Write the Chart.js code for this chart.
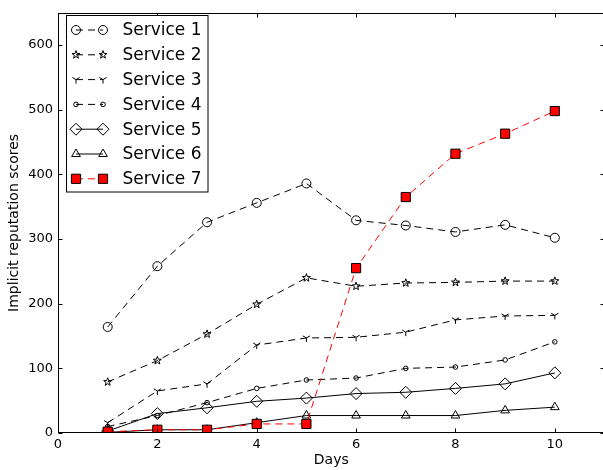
<!DOCTYPE html>
<html>
<head>
<meta charset="utf-8">
<title>Implicit reputation scores</title>
<script src="https://cdn.jsdelivr.net/npm/chart.js@4.4.1/dist/chart.umd.min.js"></script>
<style>
  html, body { margin: 0; padding: 0; background: #fff; overflow: hidden; }
  #chart { display: block; }
</style>
</head>
<body>
<canvas id="chart" width="612" height="470"></canvas>
<script>
// values
const days = [1, 2, 3, 4, 5, 6, 7, 8, 9, 10];
const service1 = [164, 258, 326, 356, 386, 329, 321, 311, 322, 302];
const service2 = [79, 112, 153, 199, 240, 227, 232, 233, 235, 235];
const service3 = [16, 65, 76, 136, 147, 148, 156, 175, 181, 182];
const service4 = [10, 27, 47, 69, 82, 85, 100, 102, 113, 141];
const service5 = [3, 30, 39, 49, 54, 61, 63, 69, 76, 93];
const service6 = [1, 5, 5, 16, 27, 27, 27, 27, 35, 40];
const service7 = [2, 5, 5, 14, 14, 255, 365, 432, 463, 498];
const seriesNames = ['Service 1', 'Service 2', 'Service 3', 'Service 4', 'Service 5', 'Service 6', 'Service 7'];
const xTicks = [0, 2, 4, 6, 8, 10];
const yTicks = [0, 100, 200, 300, 400, 500, 600];

Chart.defaults.font.family = '"DejaVu Sans", sans-serif';
Chart.defaults.color = '#000';

// markers chart.js has no shape for (open star, tri_down)
function drawStar(ctx, cx, cy) {
  ctx.beginPath();
  for (let k = 0; k < 10; k++) {
    const r = k % 2 ? 1.7 : 4.2;
    const a = -Math.PI / 2 + k * Math.PI / 5;
    const px = cx + r * Math.cos(a), py = cy + r * Math.sin(a);
    if (k) ctx.lineTo(px, py); else ctx.moveTo(px, py);
  }
  ctx.closePath();
  ctx.stroke();
}
function drawTri(ctx, cx, cy) {
  ctx.beginPath();
  ctx.moveTo(cx, cy); ctx.lineTo(cx, cy + 4);
  ctx.moveTo(cx, cy); ctx.lineTo(cx - 3.6, cy - 2.1);
  ctx.moveTo(cx, cy); ctx.lineTo(cx + 3.6, cy - 2.1);
  ctx.stroke();
}

const dash = [7, 5];
const allSeries = [service1, service2, service3, service4, service5, service6, service7];
const looks = [
  { style: 'circle', radius: 4.5, dash: dash, color: '#000', fill: 'rgba(0,0,0,0)' },
  { style: 'circle', radius: 0, marker: drawStar, dash: dash, color: '#000', fill: 'rgba(0,0,0,0)' },
  { style: 'circle', radius: 0, marker: drawTri, dash: dash, color: '#000', fill: 'rgba(0,0,0,0)' },
  { style: 'circle', radius: 2.3, dash: dash, color: '#000', fill: 'rgba(0,0,0,0)' },
  { style: 'rectRot', radius: 6, dash: [], color: '#000', fill: 'rgba(0,0,0,0)' },
  { style: 'triangle', radius: 5, dash: [], color: '#000', fill: 'rgba(0,0,0,0)' },
  { style: 'rect', radius: 6.5, dash: dash, color: '#ff0000', fill: '#ff0000' }
];

const datasets = allSeries.map((vals, i) => ({
  label: seriesNames[i],
  data: vals.map((v, j) => ({ x: days[j], y: v })),
  borderColor: looks[i].color,
  borderWidth: 1,
  borderDash: looks[i].dash,
  pointStyle: looks[i].style,
  pointRadius: looks[i].radius,
  pointBackgroundColor: looks[i].fill,
  pointBorderColor: '#000',
  pointBorderWidth: 1,
  marker: looks[i].marker,
  tension: 0,
  clip: 0,
  order: 7 - i
}));

// star / tri markers, placed on the points chart.js laid out
const markerPlugin = {
  id: 'markers',
  afterDatasetDraw(chart, args) {
    const ds = chart.data.datasets[args.index];
    if (!ds.marker) return;
    const { ctx, chartArea: a } = chart;
    ctx.save();
    ctx.beginPath();
    ctx.rect(a.left, a.top, a.right - a.left, a.bottom - a.top);
    ctx.clip();
    ctx.strokeStyle = '#000';
    ctx.lineWidth = 1;
    args.meta.data.forEach(pt => ds.marker(ctx, pt.x, pt.y));
    ctx.restore();
  }
};

const framePlugin = {
  id: 'frame',
  afterDraw(chart) {
    const { ctx, chartArea: a, scales } = chart;
    const l = Math.round(a.left) + 0.5, r = Math.round(a.right) - 0.5;
    const t = Math.round(a.top) + 0.5, b = Math.round(a.bottom) - 0.5;
    ctx.save();
    ctx.strokeStyle = '#000';
    ctx.lineWidth = 1;
    ctx.strokeRect(l, t, r - l, b - t);
    ctx.beginPath();
    xTicks.forEach(v => {
      const x = Math.round(scales.x.getPixelForValue(v)) + 0.5;
      ctx.moveTo(x, b); ctx.lineTo(x, b - 4);
      ctx.moveTo(x, t); ctx.lineTo(x, t + 4);
    });
    yTicks.forEach(v => {
      const y = Math.round(scales.y.getPixelForValue(v)) + 0.5;
      ctx.moveTo(l, y); ctx.lineTo(l + 4, y);
      ctx.moveTo(r, y); ctx.lineTo(r - 4, y);
    });
    ctx.stroke();

    // legend box, upper left
    ctx.fillStyle = '#fff';
    ctx.fillRect(66.5, 15.5, 141.5, 176.5);
    ctx.strokeRect(66.5, 15.5, 141.5, 176.5);
    chart.data.datasets.forEach((ds, i) => {
      const y = 30 + i * 24.8;
      ctx.save();
      ctx.strokeStyle = ds.borderColor;
      ctx.lineWidth = ds.borderWidth;
      ctx.setLineDash(ds.borderDash);
      ctx.beginPath();
      ctx.moveTo(76, y); ctx.lineTo(103, y);
      ctx.stroke();
      ctx.restore();
      [76, 103].forEach(x => {
        ctx.save();
        ctx.fillStyle = ds.pointBackgroundColor;
        ctx.strokeStyle = ds.pointBorderColor;
        ctx.lineWidth = 1;
        if (ds.marker) ds.marker(ctx, x, y);
        else Chart.helpers.drawPoint(ctx, { pointStyle: ds.pointStyle, radius: ds.pointRadius, rotation: 0, borderWidth: 1 }, x, y);
        ctx.restore();
      });
      ctx.fillStyle = '#000';
      ctx.font = '17px "DejaVu Sans"';
      ctx.textBaseline = 'middle';
      ctx.textAlign = 'left';
      ctx.fillText(ds.label, 122.5, y + 1);
    });
    ctx.restore();
  }
};

new Chart(document.getElementById('chart'), {
  type: 'line',
  data: { datasets },
  plugins: [markerPlugin, framePlugin],
  options: {
    responsive: false,
    animation: false,
    devicePixelRatio: 1,
    layout: { padding: { left: 0, top: 7, right: 7, bottom: 0 } },
    plugins: { legend: { display: false }, tooltip: { enabled: false } },
    scales: {
      x: {
        type: 'linear',
        min: 0,
        max: 11,
        grid: { display: false, drawTicks: false },
        border: { display: false },
        afterBuildTicks: s => { s.ticks = xTicks.map(v => ({ value: v })); },
        afterFit: s => { s.height = 37; },
        ticks: { font: { size: 13 }, padding: 4, maxRotation: 0 },
        title: { display: true, text: 'Days', font: { size: 14 }, padding: { top: 0, bottom: 1 } }
      },
      y: {
        type: 'linear',
        min: 0,
        max: 650,
        grid: { display: false, drawTicks: false },
        border: { display: false },
        afterBuildTicks: s => { s.ticks = yTicks.map(v => ({ value: v })); },
        afterFit: s => { s.width = 58; },
        ticks: { font: { size: 13 }, padding: 5 },
        title: { display: true, text: 'Implicit reputation scores', font: { size: 14 }, padding: { top: 6, bottom: 0 } }
      }
    }
  }
});
</script>
</body>
</html>
